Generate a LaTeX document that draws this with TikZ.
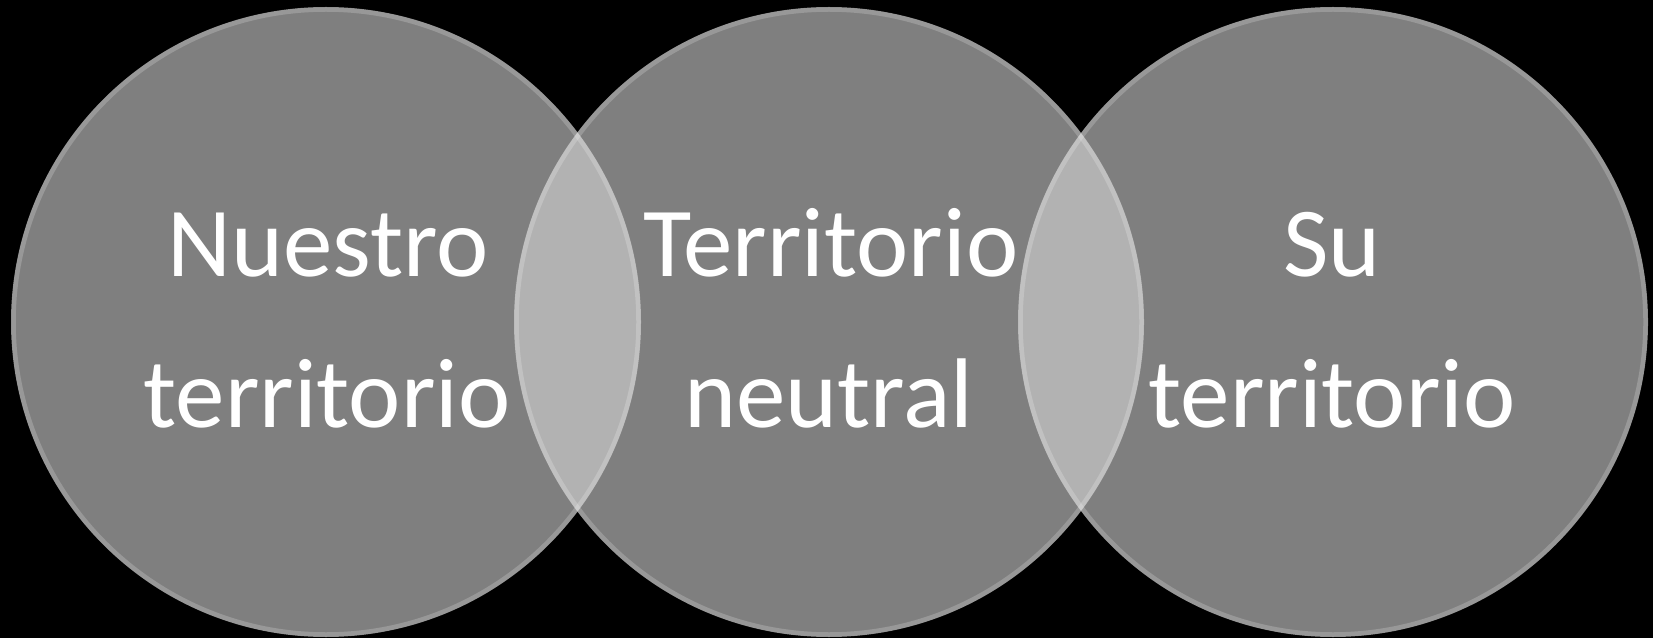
\documentclass[tikz,border=0pt]{standalone}
\usepackage{fontspec}
\setmainfont{Carlito}
\definecolor{circfill}{gray}{0.835}
\tikzset{
  venn/.style={circle, inner sep=0pt, minimum size=630pt, fill=circfill, fill opacity=0.6},
  rim/.style={draw=white, draw opacity=0.2, line width=4.5pt},
  lbl/.style={text=white, anchor=base, inner sep=0pt, font=\fontsize{99}{120}\selectfont}
}
\begin{document}
\begin{tikzpicture}[x=1pt,y=1pt]
\fill[black] (0,0) rectangle (1653,638);
\useasboundingbox (0,0) rectangle (1653,638);
\node[venn] (c1) at (326,316) {};
\node[venn] (c2) at (829,316) {};
\node[venn] (c3) at (1333,316) {};
\draw[rim] (c1.center) circle[radius=312.5];
\draw[rim] (c2.center) circle[radius=312.5];
\draw[rim] (c3.center) circle[radius=312.5];
\node[lbl] (t1a) at (328,361) {Nuestro};
\node[lbl] (t1b) at (327,211) {territorio};
\node[lbl] (t2a) at (831,361) {Territorio};
\node[lbl] (t2b) at (829,211) {neutral};
\node[lbl] (t3a) at (1332,361) {Su};
\node[lbl] (t3b) at (1332,211) {territorio};
\end{tikzpicture}
\end{document}
